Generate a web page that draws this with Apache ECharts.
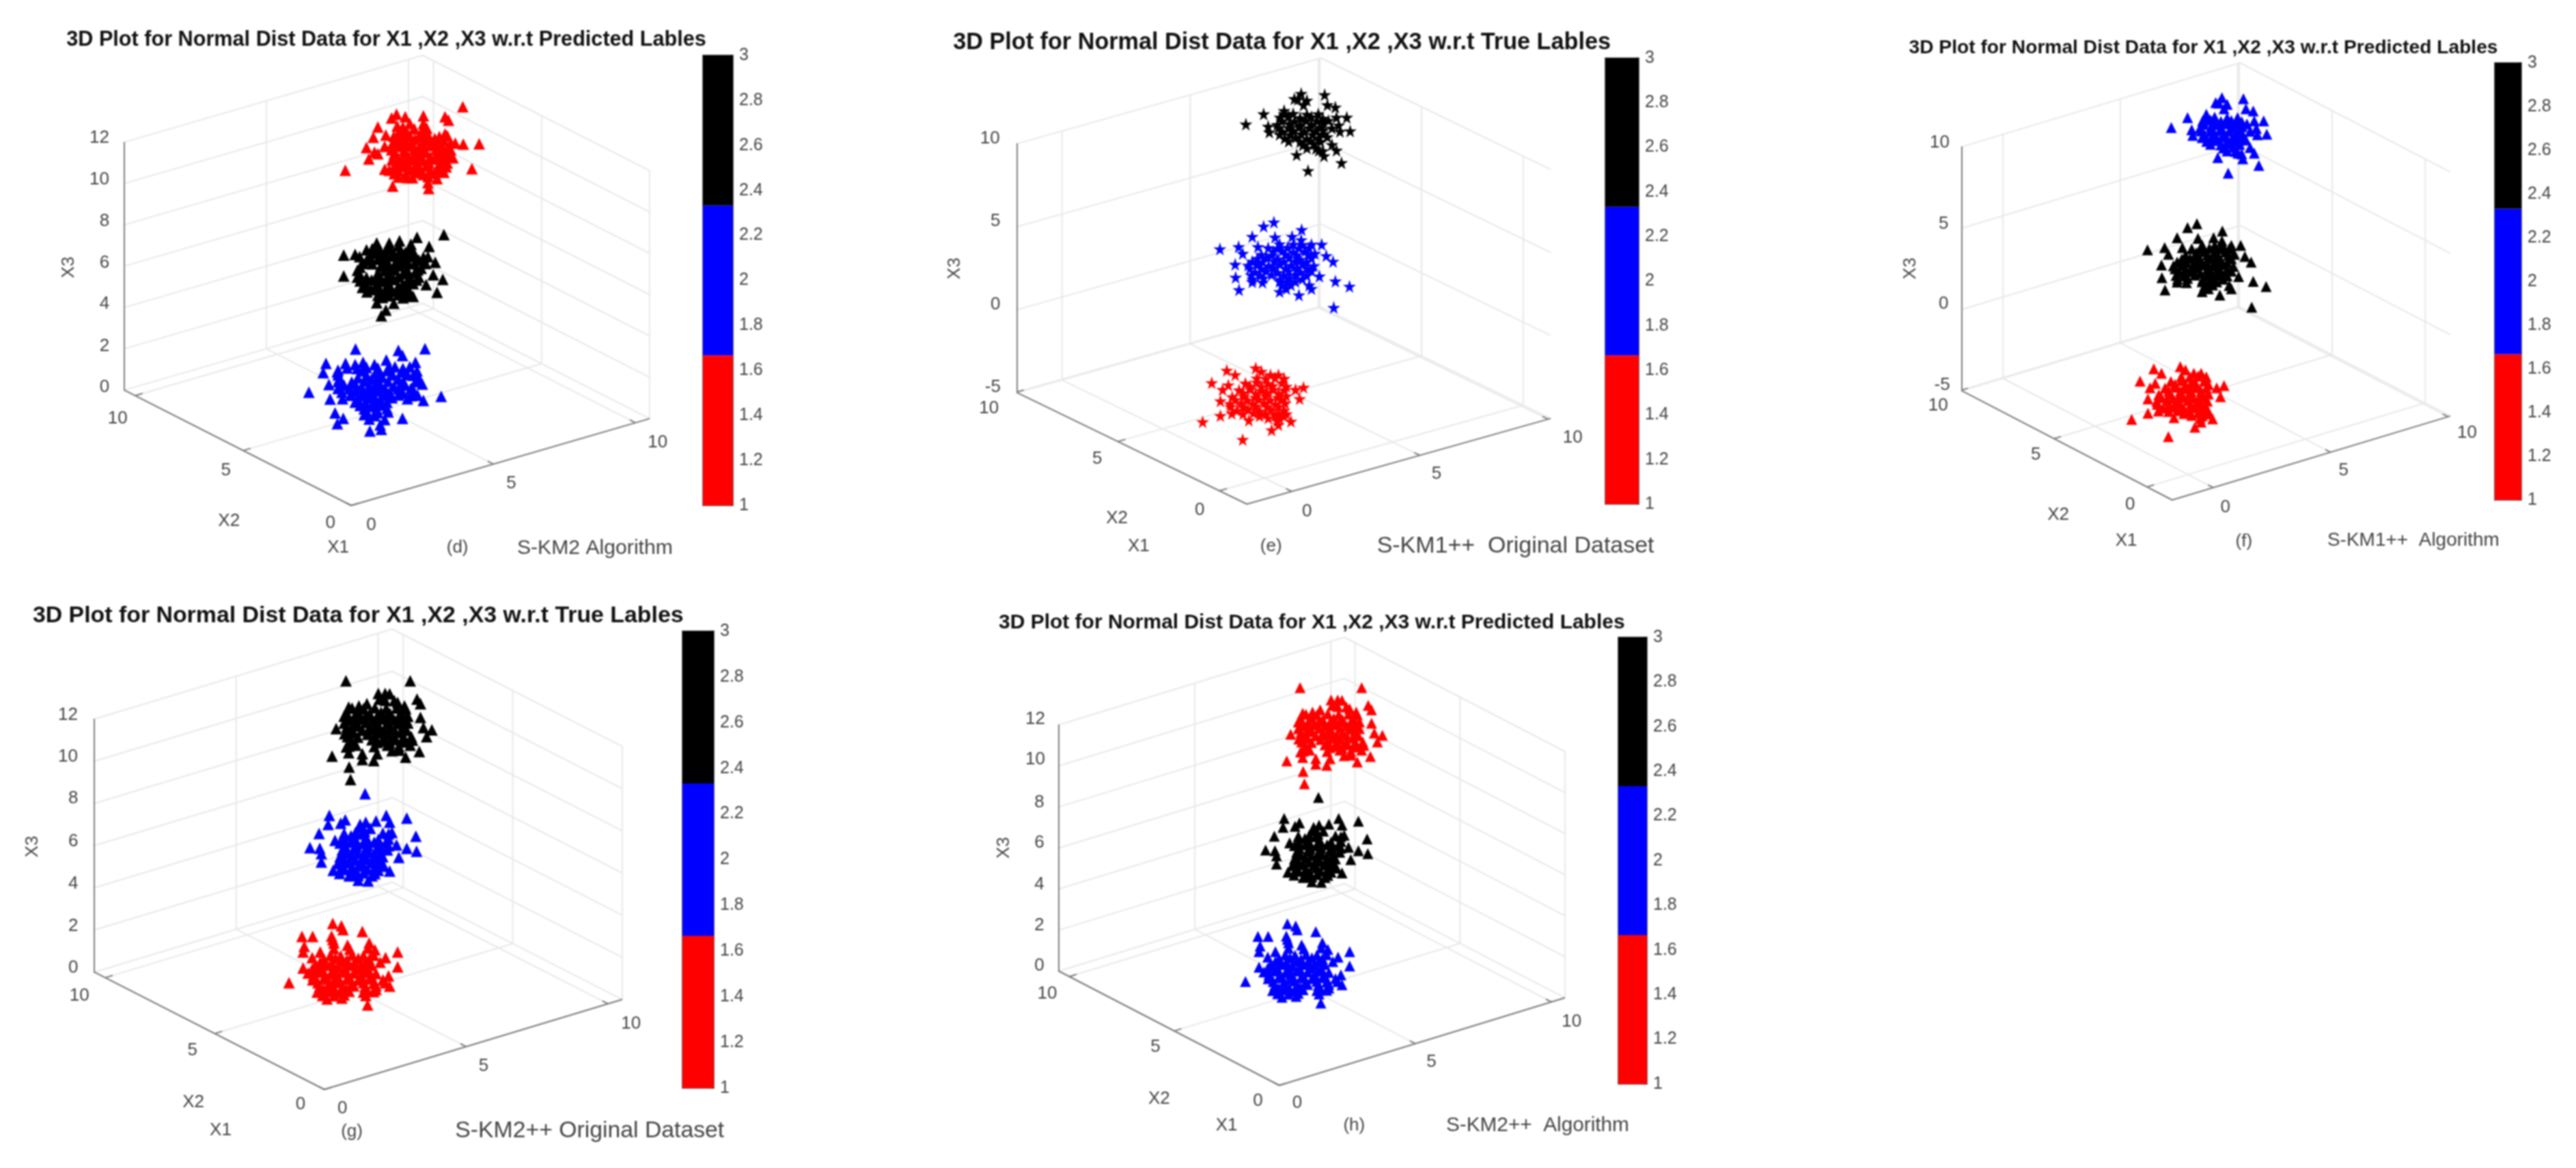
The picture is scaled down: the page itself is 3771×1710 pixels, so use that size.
<!DOCTYPE html>
<html>
<head>
<meta charset="utf-8">
<title>3D Plots for Normal Dist Data</title>
<style>
html,body{margin:0;padding:0;background:#fff}
#chart{width:3771px;height:1710px;filter:blur(0.8px)}
</style>
<script src="https://cdn.jsdelivr.net/npm/echarts@6/dist/echarts.min.js"></script>
</head>
<body>
<div id="chart"></div>
<script>
/* Cluster points, read off the picture as positions on the projected plot.
   The *Core lists are the dense middles, where single marks overlap and are estimated by eye. */
const clusterDTop = [[683,15],[167,295],[755,178],[723,288],[375,365],[533,375],[530,350],[392,48],[370,65],[430,60],[510,55],[510,90],[605,60],[620,75],[310,105],[290,150],[345,140],[260,195],[295,215],[310,222],[270,245],[340,190],[395,100],[420,105],[450,90],[525,110],[605,135],[650,175],[685,180],[640,240],[340,290],[400,130],[440,135],[500,128],[530,138],[392,160],[430,165],[472,158],[520,162],[560,155],[600,165],[400,190],[450,188],[490,194],[540,186],[590,192],[618,196],[382,222],[430,218],[472,224],[520,216],[570,222],[608,218],[372,250],[420,254],[460,248],[510,252],[560,246],[600,256],[380,282],[420,278],[470,284],[522,276],[572,282],[610,280],[382,310],[432,312],[472,306],[510,314],[560,308],[600,304],[462,328],[570,332]];
const clusterDTopCore = [[415,115],[470,112],[510,118],[380,145],[415,147],[450,143],[490,146],[525,144],[580,147],[615,143],[375,175],[415,173],[460,177],[505,175],[550,173],[575,177],[630,175],[370,205],[425,207],[470,203],[515,206],[565,204],[600,207],[630,205],[395,235],[445,237],[490,233],[540,236],[585,234],[620,236],[395,265],[440,263],[485,267],[535,264],[585,266],[615,263],[360,295],[400,297],[445,293],[495,296],[540,294],[585,297],[400,325],[440,327],[530,323]];
const clusterDMid = [[690,68],[572,80],[250,158],[300,155],[625,120],[250,250],[652,190],[643,245],[685,265],[612,288],[660,322],[395,368],[435,400],[415,425],[470,370],[555,340],[530,325],[395,105],[450,105],[495,95],[545,110],[375,130],[320,165],[620,165],[380,150],[430,146],[470,152],[520,148],[562,156],[350,182],[400,176],[440,184],[490,178],[530,186],[580,180],[322,212],[412,208],[452,214],[500,206],[590,216],[320,242],[400,238],[450,246],[510,240],[562,236],[322,272],[372,268],[420,274],[470,266],[530,272],[570,268],[332,300],[402,298],[440,304],[490,296],[530,302],[352,320],[430,322],[480,318],[420,345],[510,346]];
const clusterDMidCore = [[400,120],[445,122],[490,118],[540,121],[350,135],[410,137],[455,133],[500,136],[545,134],[365,165],[415,167],[460,163],[505,166],[550,164],[600,167],[335,195],[375,197],[430,193],[475,196],[520,194],[560,197],[610,195],[310,225],[430,227],[475,223],[530,226],[575,224],[310,255],[350,257],[395,253],[440,256],[490,254],[540,257],[580,255],[345,285],[395,287],[445,283],[510,286],[555,284],[370,310],[410,312],[460,308],[510,311],[400,335],[450,337],[490,333],[540,336]];
const clusterDBottom = [[302,572],[490,578],[508,600],[607,570],[172,635],[160,675],[565,630],[185,728],[97,762],[678,780],[600,798],[190,792],[245,790],[212,853],[248,877],[222,900],[365,932],[508,877],[410,905],[415,925],[340,860],[258,635],[300,640],[335,630],[385,640],[437,620],[475,650],[540,650],[225,665],[222,672],[332,668],[392,674],[440,666],[502,672],[572,668],[232,702],[312,698],[372,704],[420,696],[490,704],[580,700],[252,732],[300,726],[362,734],[410,728],[470,736],[520,730],[595,726],[242,762],[302,758],[352,764],[400,756],[452,762],[510,766],[560,760],[312,792],[362,788],[410,794],[462,786],[530,790],[322,820],[372,824],[420,818],[352,850],[400,852],[445,848],[362,880],[430,882]];
const clusterDBottomCore = [[265,655],[310,657],[350,653],[400,656],[450,654],[510,657],[225,685],[350,687],[405,683],[465,686],[530,684],[555,687],[225,715],[285,717],[340,713],[395,716],[445,714],[510,717],[565,715],[225,745],[275,747],[330,743],[380,746],[430,744],[490,747],[545,745],[280,775],[330,777],[380,773],[430,776],[490,774],[545,777],[575,775],[300,805],[345,807],[390,803],[440,806],[340,835],[395,837],[440,833],[385,865]];
const clusterETop = [[132,180],[210,135],[375,45],[478,50],[405,385],[552,350],[355,315],[475,320],[530,295],[575,150],[590,210],[525,105],[360,70],[400,75],[490,95],[230,190],[235,215],[300,120],[282,150],[320,146],[370,152],[420,148],[470,154],[530,150],[270,182],[322,178],[372,184],[420,180],[472,176],[540,184],[292,212],[340,208],[390,214],[440,210],[472,206],[545,212],[302,242],[352,238],[400,244],[452,240],[490,236],[382,272],[430,268],[510,270],[452,295],[470,298]];
const clusterETopCore = [[345,68],[385,95],[300,135],[340,133],[400,137],[450,135],[290,165],[345,167],[395,163],[445,166],[495,164],[275,195],[320,197],[365,193],[410,196],[455,194],[510,197],[280,225],[325,227],[375,223],[425,226],[470,224],[320,255],[370,257],[415,253],[460,256],[400,285],[440,287]];
const clusterEMid = [[315,42],[270,60],[437,75],[78,160],[220,105],[320,108],[160,150],[178,180],[145,228],[147,285],[162,340],[585,302],[647,325],[578,418],[425,363],[340,348],[480,335],[525,140],[575,215],[515,280],[395,105],[435,120],[480,140],[245,150],[545,190],[495,180],[312,172],[352,168],[400,174],[452,170],[242,202],[282,198],[332,204],[382,200],[430,206],[480,200],[202,232],[242,228],[292,234],[342,228],[390,232],[440,226],[490,234],[232,262],[282,258],[332,264],[380,258],[432,262],[480,256],[222,292],[270,288],[342,294],[382,288],[440,292],[352,322],[390,318],[470,320]];
const clusterEMidCore = [[400,140],[440,142],[340,138],[290,155],[330,157],[375,153],[425,156],[470,154],[260,185],[305,187],[365,183],[415,186],[465,184],[220,215],[265,217],[315,213],[360,216],[410,214],[460,217],[210,245],[260,247],[315,243],[365,246],[415,244],[460,247],[215,275],[255,277],[305,273],[360,276],[410,274],[460,277],[220,305],[265,307],[340,303],[370,306],[410,304],[370,335]];
const clusterEBottom = [[62,292],[238,370],[102,120],[168,65],[205,85],[295,55],[265,285],[365,328],[395,305],[450,290],[140,265],[140,200],[505,140],[470,150],[488,190],[150,150],[175,130],[320,70],[395,85],[360,85],[250,122],[300,118],[350,124],[410,120],[222,152],[272,148],[320,154],[372,150],[420,152],[192,182],[242,178],[292,184],[340,180],[392,184],[430,178],[182,212],[232,208],[282,212],[332,208],[382,214],[425,210],[212,242],[262,238],[312,244],[362,240],[420,242],[312,266],[380,264],[420,268],[390,288]];
const clusterEBottomCore = [[300,100],[340,102],[380,98],[420,101],[270,135],[320,137],[370,133],[430,136],[240,165],[295,167],[345,163],[395,166],[205,195],[260,197],[310,193],[360,196],[410,194],[185,225],[240,227],[295,223],[345,226],[395,224],[190,255],[240,257],[285,253],[340,256],[395,254],[430,257],[350,275],[400,277]];
const clusterGTop = [[258,80],[540,80],[570,160],[585,180],[585,240],[635,295],[598,285],[612,325],[197,410],[272,458],[278,513],[215,290],[430,135],[270,195],[350,180],[315,190],[485,175],[515,190],[405,160],[580,390],[520,415],[330,425],[380,430],[270,395],[260,370],[330,400],[395,400],[262,222],[312,218],[362,224],[412,218],[452,224],[500,218],[272,252],[322,248],[372,254],[420,248],[470,252],[515,246],[262,282],[312,278],[362,284],[402,278],[452,282],[510,276],[252,312],[292,308],[352,314],[402,308],[442,312],[500,306],[282,342],[372,338],[420,344],[470,338],[520,344],[550,340],[272,366],[302,362],[382,368],[440,362],[490,368],[540,362],[460,386],[492,384]];
const clusterGTopCore = [[400,135],[450,137],[430,165],[470,167],[285,200],[335,202],[385,198],[435,201],[480,199],[520,202],[250,235],[295,237],[345,233],[395,236],[440,234],[490,237],[530,235],[250,265],[295,267],[345,263],[395,266],[440,264],[490,267],[530,265],[280,295],[330,297],[380,293],[425,296],[470,294],[525,297],[265,325],[310,327],[385,323],[425,326],[470,324],[510,327],[545,325],[395,350],[450,352],[505,348]];
const clusterGMid = [[342,575],[185,670],[255,690],[235,705],[435,670],[390,695],[525,682],[565,762],[568,828],[180,710],[140,750],[100,812],[143,815],[150,838],[150,875],[490,855],[450,915],[525,815],[480,800],[345,700],[320,710],[450,700],[460,745],[300,745],[280,760],[210,780],[340,740],[232,792],[282,788],[332,794],[382,788],[432,792],[242,822],[292,818],[342,824],[392,818],[440,822],[232,852],[282,848],[332,854],[382,848],[420,852],[222,882],[272,878],[322,884],[372,878],[410,882],[202,912],[252,908],[302,914],[352,908],[400,912],[272,936],[312,934],[372,936],[312,955],[355,958]];
const clusterGMidCore = [[325,725],[365,727],[250,750],[330,752],[420,748],[445,751],[250,775],[300,777],[350,773],[400,776],[445,774],[255,805],[305,807],[355,803],[405,806],[445,804],[260,835],[310,837],[360,833],[410,836],[250,865],[300,867],[350,863],[395,866],[240,895],[285,897],[335,893],[385,896],[425,894],[230,925],[285,927],[335,923],[385,926]];
const clusterGBottom = [[68,325],[413,422],[125,122],[172,122],[260,65],[298,75],[305,92],[135,165],[130,190],[545,190],[492,215],[468,235],[545,255],[505,295],[510,340],[130,260],[390,100],[255,120],[265,150],[205,190],[170,215],[325,160],[420,150],[445,180],[222,222],[272,218],[322,224],[372,218],[420,222],[182,252],[232,248],[282,254],[332,248],[382,252],[430,248],[152,282],[202,278],[252,284],[302,278],[352,282],[402,278],[450,284],[172,312],[222,308],[272,314],[322,308],[372,312],[420,308],[480,312],[202,342],[252,338],[302,344],[352,338],[402,342],[450,338],[192,366],[242,362],[292,368],[332,362],[395,366],[440,364],[235,396],[300,392]];
const clusterGBottomCore = [[260,135],[265,175],[335,177],[415,173],[250,205],[295,207],[345,203],[395,206],[440,204],[205,235],[255,237],[305,233],[355,236],[405,234],[170,265],[215,267],[265,263],[315,266],[365,264],[415,267],[175,295],[225,297],[275,293],[330,296],[385,294],[430,297],[195,325],[245,327],[295,323],[345,326],[395,324],[440,327],[490,325],[220,355],[270,357],[320,353],[410,356],[450,354],[215,380],[265,382],[310,378],[405,381]];

/* Colorbar bands (height of each colour on the 1–3 scale) and tick settings. */
const colorbarBands = [1.667, 0.666, 0.667];
const colorbarColors = ['#ff0000', '#0000ff', '#000000'];
const colorbarRange = [1, 3];
const colorbarStep = 0.2;

/* Real axis ticks on the three plotted dimensions. */
const ticksX1 = [0, 5, 10];
const ticksX2 = [0, 5, 10];
const ticksX3Wide = [0, 2, 4, 6, 8, 10, 12];
const ticksX3Short = [-5, 0, 5, 10];

/* Titles and captions. */
const titlePredicted = '3D Plot for Normal Dist Data for X1 ,X2 ,X3 w.r.t Predicted Lables';
const titleTrue = '3D Plot for Normal Dist Data for X1 ,X2 ,X3 w.r.t True Lables';

/* Layout below: where things sit on the page. */
const RED = '#ff0000', BLUE = '#0000ff', BLACK = '#000000';
const STAR = 'path://M50 0 L61 35 L98 35 L68 57 L79 91 L50 70 L21 91 L32 57 L2 35 L39 35 Z';

const placeCrop = (arr, ox, oy) => arr.map(p => [ox + p[0] / 3, oy + p[1] / 3]);
const shapeD = {
  L: [182.1, 570.8], F: [514.3, 740], R: [951.2, 612.6], H: 363.7,
  x1: [0, 10.5], x2: [0, 10.5], x3: [0, 12], x3Ticks: ticksX3Wide,
  clusters: [placeCrop(clusterDTop.concat(clusterDTopCore), 450, 150), placeCrop(clusterDMid.concat(clusterDMidCore), 420, 320), placeCrop(clusterDBottom.concat(clusterDBottomCore), 420, 320)]
};
const shapeE = {
  L: [1489.1, 574.6], F: [1825.4, 738.3], R: [2270.2, 612.5], H: 365.9,
  x1: [-1.75, 10.1], x2: [-1.35, 9.95], x3: [-5, 10], x3Ticks: ticksX3Short,
  clusters: [placeCrop(clusterETop.concat(clusterETopCore), 1780, 120), placeCrop(clusterEMid.concat(clusterEMidCore), 1760, 310), placeCrop(clusterEBottom.concat(clusterEBottomCore), 1740, 520)]
};
const shapeG = {
  L: [137.7, 1422.7], F: [474.3, 1594.4], R: [910.4, 1462.8], H: 370.2,
  x1: [0, 10.5], x2: [0, 10.5], x3: [0, 12], x3Ticks: ticksX3Wide,
  clusters: [placeCrop(clusterGTop.concat(clusterGTopCore), 420, 970), placeCrop(clusterGMid.concat(clusterGMidCore), 420, 970), placeCrop(clusterGBottom.concat(clusterGBottomCore), 400, 1330)]
};

const panels = [
  { shape: shapeD, box: [182, 81, 769, 659], bar: [1029, 81, 44, 659], symbol: 'triangle', size: 17, colors: [RED, BLACK, BLUE],
    view: { x: 0, y: 0, sx: 1200 / 1568, sy: 850 / 1568 },
    title: [titlePredicted, 739, 108, 937],
    labels: [['12',190,372],['10',190,484],['8',200,597],['6',200,709],['4',200,821],['2',200,935],['0',200,1045],['10',225,1130],['5',432,1270],['0',632,1412],['0',710,1418],['5',978,1305],['10',1258,1195],['X2',438,1408],['X1',647,1480],['(d)',875,1480]],
    x3Label: [132, 722], caption: ['S-KM2 Algorithm', 1138, 1480, 228] },
  { shape: shapeE, box: [1489, 85, 781, 653], bar: [2350, 85, 49, 653], symbol: STAR, size: 19, colors: [BLACK, BLUE, RED],
    view: { x: 1250, y: 0, sx: 1250 / 1568, sy: 850 / 1568 },
    title: [titleTrue, 786, 115, 963],
    labels: [['10',250,375],['5',260,598],['0',260,822],['-5',255,1045],['10',248,1103],['5',447,1240],['0',635,1378],['0',832,1382],['5',1070,1280],['10',1320,1182],['X2',483,1400],['X1',523,1475],['(e)',766,1475]],
    x3Label: [185, 725], caption: ['S-KM1++  Original Dataset', 1215, 1475, 406] },
  { shape: shapeE, box: [2872, 92, 715, 640], bar: [3652, 92, 39, 640], symbol: 'triangle', size: 16, colors: [BLUE, BLACK, RED],
    view: { x: 2650, y: 0, sx: 1121 / 1568, sy: 850 / 1568 },
    title: [titlePredicted, 805, 130, 862],
    labels: [['10',265,385],['5',273,605],['0',273,820],['-5',270,1040],['10',262,1095],['5',462,1228],['0',655,1363],['0',850,1370],['5',1092,1270],['10',1345,1170],['X2',508,1390],['X1',647,1460],['(f)',888,1462]],
    x3Label: [205, 725], caption: ['S-KM1++  Algorithm', 1235, 1460, 252] },
  { shape: shapeG, box: [138, 921, 773, 674], bar: [999, 924, 46, 669], symbol: 'triangle', size: 17, colors: [BLACK, BLUE, RED],
    view: { x: 0, y: 860, sx: 1200 / 1568, sy: 850 / 1568 },
    title: [titleTrue, 685, 76, 953],
    labels: [['12',130,345],['10',130,458],['8',140,570],['6',140,685],['4',140,800],['2',140,915],['0',140,1027],['10',152,1103],['5',368,1250],['0',575,1397],['0',655,1407],['5',925,1293],['10',1207,1178],['X2',370,1390],['X1',422,1467],['(g)',673,1470]],
    x3Label: [62, 700], caption: ['S-KM2++ Original Dataset', 1128, 1467, 394] },
  { shape: shapeG, box: [1550, 933, 741, 656], bar: [2369, 933, 42, 654], symbol: 'triangle', size: 16, colors: [RED, BLACK, BLUE],
    view: { x: 1380, y: 860, sx: 1200 / 1568, sy: 850 / 1568 },
    title: [titlePredicted, 706, 95, 917],
    labels: [['12',177,355],['10',177,465],['8',185,580],['6',185,690],['4',185,802],['2',185,912],['0',185,1022],['10',200,1098],['5',407,1242],['0',603,1386],['0',678,1392],['5',935,1282],['10',1203,1172],['X2',414,1382],['X1',543,1453],['(h)',787,1453]],
    x3Label: [118, 703], caption: ['S-KM2++  Algorithm', 1138, 1453, 268] }
];

const FONT = '"Liberation Sans", Arial, Helvetica, sans-serif';
const measureCtx = document.createElement('canvas').getContext('2d');
function fitFont(text, width, weight) {
  measureCtx.font = weight + ' 100px ' + FONT;
  return 100 * width / measureCtx.measureText(text).width;
}

function projector(s) {
  return (a, b, c) => {
    const fa = (a - s.x1[0]) / (s.x1[1] - s.x1[0]);
    const fb = (b - s.x2[0]) / (s.x2[1] - s.x2[0]);
    const fc = (c - s.x3[0]) / (s.x3[1] - s.x3[0]);
    return [
      s.F[0] + fa * (s.R[0] - s.F[0]) + fb * (s.L[0] - s.F[0]),
      s.F[1] + fa * (s.R[1] - s.F[1]) + fb * (s.L[1] - s.F[1]) - fc * s.H
    ];
  };
}

const grids = [], xAxes = [], yAxes = [], series = [], graphics = [];

function addLine(idx, pts, color, width, z) {
  series.push({
    type: 'line', xAxisIndex: idx, yAxisIndex: idx, data: pts, symbol: 'none', silent: true,
    animation: false, clip: false, z: z, lineStyle: { color: color, width: width }
  });
}

panels.forEach(p => {
  const s = p.shape, P = projector(s);
  const idx = grids.length;
  const top = s.L[1] + s.R[1] - s.F[1] - s.H;
  grids.push({ left: p.box[0], top: p.box[1], width: p.box[2], height: p.box[3] });
  xAxes.push({ type: 'value', gridIndex: idx, show: false, min: s.L[0], max: s.R[0] });
  yAxes.push({ type: 'value', gridIndex: idx, show: false, inverse: true, min: top, max: s.F[1] });

  const [a0, a1] = s.x1, [b0, b1] = s.x2, [c0, c1] = s.x3;
  const GRID = '#e8e8e8', AXIS = '#7c7c7c';
  s.x3Ticks.forEach(t => addLine(idx, [P(a0, b1, t), P(a1, b1, t), P(a1, b0, t)], GRID, 2, 1));
  ticksX1.forEach(t => addLine(idx, [P(t, b0, c0), P(t, b1, c0), P(t, b1, c1)], GRID, 2, 1));
  ticksX2.forEach(t => addLine(idx, [P(a0, t, c0), P(a1, t, c0), P(a1, t, c1)], GRID, 2, 1));
  addLine(idx, [P(a0, b1, c1), P(a0, b1, c0), P(a0, b0, c0), P(a1, b0, c0)], AXIS, 2, 2);
  const da = (a1 - a0) * 0.025, db = (b1 - b0) * 0.025;
  ticksX1.forEach(t => addLine(idx, [P(t, b0, c0), P(t, b0 + db, c0)], AXIS, 2, 2));
  ticksX2.forEach(t => addLine(idx, [P(a0, t, c0), P(a0 + da, t, c0)], AXIS, 2, 2));
  s.x3Ticks.forEach(t => addLine(idx, [P(a0, b1, t), P(a0 - da * 0.6, b1, t)], AXIS, 2, 2));

  s.clusters.forEach((pts, i) => {
    series.push({
      type: 'scatter', xAxisIndex: idx, yAxisIndex: idx, data: pts, symbol: p.symbol, symbolSize: p.size,
      silent: true, animation: false, clip: false, z: 3, itemStyle: { color: p.colors[i], opacity: 1 }
    });
  });

  // colorbar
  const ci = grids.length;
  grids.push({ left: p.bar[0], top: p.bar[1], width: p.bar[2], height: p.bar[3], show: true, borderColor: '#6a6a6a', borderWidth: 2, backgroundColor: 'transparent' });
  xAxes.push({ type: 'category', gridIndex: ci, data: ['c'], show: false });
  yAxes.push({
    type: 'value', gridIndex: ci, position: 'right', min: colorbarRange[0], max: colorbarRange[1], interval: colorbarStep,
    splitLine: { show: false }, axisLine: { show: false },
    axisTick: { show: true, inside: true, length: 5, lineStyle: { color: '#555', width: 2 } },
    axisLabel: { show: true, fontFamily: FONT, fontSize: 25, color: '#444', margin: 9, showMinLabel: true, showMaxLabel: true }
  });
  colorbarBands.forEach((v, i) => {
    series.push({
      type: 'bar', xAxisIndex: ci, yAxisIndex: ci, stack: 'cb' + ci, data: [v], barWidth: '100%', silent: true, animation: false, z: 1,
      itemStyle: { color: colorbarColors[i] }
    });
  });

  // text
  const at = (dx, dy) => [p.view.x + dx * p.view.sx, p.view.y + dy * p.view.sy];
  const text = (str, dx, dy, font, fill, rot) => {
    const [x, y] = at(dx, dy);
    graphics.push({
      type: 'text', x: x, y: y, rotation: rot || 0, silent: true, z: 10,
      style: { text: str, font: font, fill: fill, align: 'center', verticalAlign: 'middle' }
    });
  };
  const [tt, tx, ty, tw] = p.title;
  text(tt, tx, ty, 'bold ' + fitFont(tt, tw, 'bold').toFixed(2) + 'px ' + FONT, '#111');
  p.labels.forEach(l => text(l[0], l[1], l[2], '26px ' + FONT, '#444'));
  text('X3', p.x3Label[0], p.x3Label[1], '26px ' + FONT, '#444', Math.PI / 2);
  const [ct, cx, cy, cw] = p.caption;
  text(ct, cx, cy, fitFont(ct, cw, 'normal').toFixed(2) + 'px ' + FONT, '#444');
});

const chart = echarts.init(document.getElementById('chart'), null, { renderer: 'canvas' });
chart.setOption({
  backgroundColor: '#ffffff',
  animation: false,
  grid: grids,
  xAxis: xAxes,
  yAxis: yAxes,
  series: series,
  graphic: { elements: graphics }
});
</script>
</body>
</html>
